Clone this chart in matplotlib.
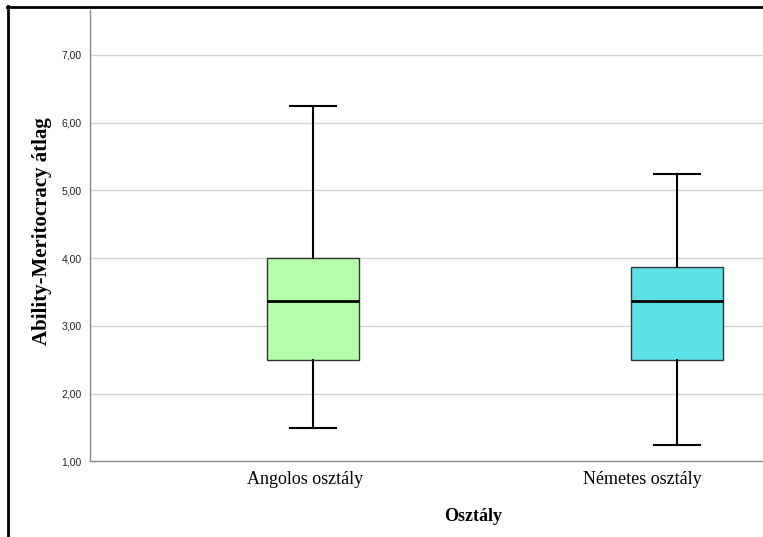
import matplotlib.pyplot as plt
from matplotlib.lines import Line2D
from matplotlib.transforms import ScaledTranslation

categories = ["Angolos osztály", "Németes osztály"]
whisker_low = [1.50, 1.25]
q1 = [2.50, 2.50]
median = [3.375, 3.375]
q3 = [4.00, 3.875]
whisker_high = [6.25, 5.25]
colors = ["#b4ffaa", "#5ce2e6"]
yticks = [1, 2, 3, 4, 5, 6, 7]

fig = plt.figure(figsize=(7.63, 5.37), dpi=100)
ax = fig.add_axes([0.118, 0.1406, 0.882, 0.8404])

stats = []
for i, name in enumerate(categories):
    stats.append({"label": name, "whislo": whisker_low[i], "q1": q1[i],
                  "med": median[i], "q3": q3[i], "whishi": whisker_high[i]})

bp = ax.bxp(stats, positions=[0, 1], widths=0.253, patch_artist=True,
            showfliers=False, capwidths=0.126,
            boxprops=dict(edgecolor="#333333", linewidth=1.0),
            medianprops=dict(color="black", linewidth=2),
            whiskerprops=dict(color="black", linewidth=1.5),
            capprops=dict(color="black", linewidth=1.5))
for patch, c in zip(bp["boxes"], colors):
    patch.set_facecolor(c)

ax.set_xlim(-0.6126, 1.236)
ax.set_ylim(1, 7.66)
ax.set_yticks(yticks)
ax.set_yticklabels([f"{v:.2f}".replace(".", ",") for v in yticks],
                   fontfamily="Liberation Sans", fontsize=7.5, color="#222222")
ax.yaxis.grid(True, color="#d2d2d2", linewidth=1)
ax.set_axisbelow(True)
ax.tick_params(axis="both", length=0)
ax.tick_params(axis="y", pad=6)
ax.tick_params(axis="x", pad=7)

ax.set_xticks([0, 1])
ax.set_xticklabels(categories, fontfamily="Liberation Serif", fontsize=13)
offsets = [-8, -35]
for lab, off in zip(ax.get_xticklabels(), offsets):
    lab.set_transform(lab.get_transform() + ScaledTranslation(off / 100, 0, fig.dpi_scale_trans))

for s in ["top", "right"]:
    ax.spines[s].set_visible(False)
for s in ["left", "bottom"]:
    ax.spines[s].set_color("#8a8a8a")
    ax.spines[s].set_linewidth(1)

ax.set_ylabel("Ability-Meritocracy átlag", fontfamily="Liberation Serif",
              fontsize=15, fontweight="bold")
ax.yaxis.set_label_coords(-0.057, 0.511)
ax.set_xlabel("Osztály", fontfamily="Liberation Serif", fontsize=13, fontweight="bold")
ax.xaxis.set_label_coords(0.570, -0.102)

# outer frame (cropped on right and bottom)
fig.add_artist(Line2D([8 / 763, 8 / 763], [0, 1 - 6 / 537], color="black", linewidth=2,
                      transform=fig.transFigure))
fig.add_artist(Line2D([7 / 763, 1], [1 - 7 / 537, 1 - 7 / 537], color="black", linewidth=2,
                      transform=fig.transFigure))

fig.savefig("out.png", dpi=100)
